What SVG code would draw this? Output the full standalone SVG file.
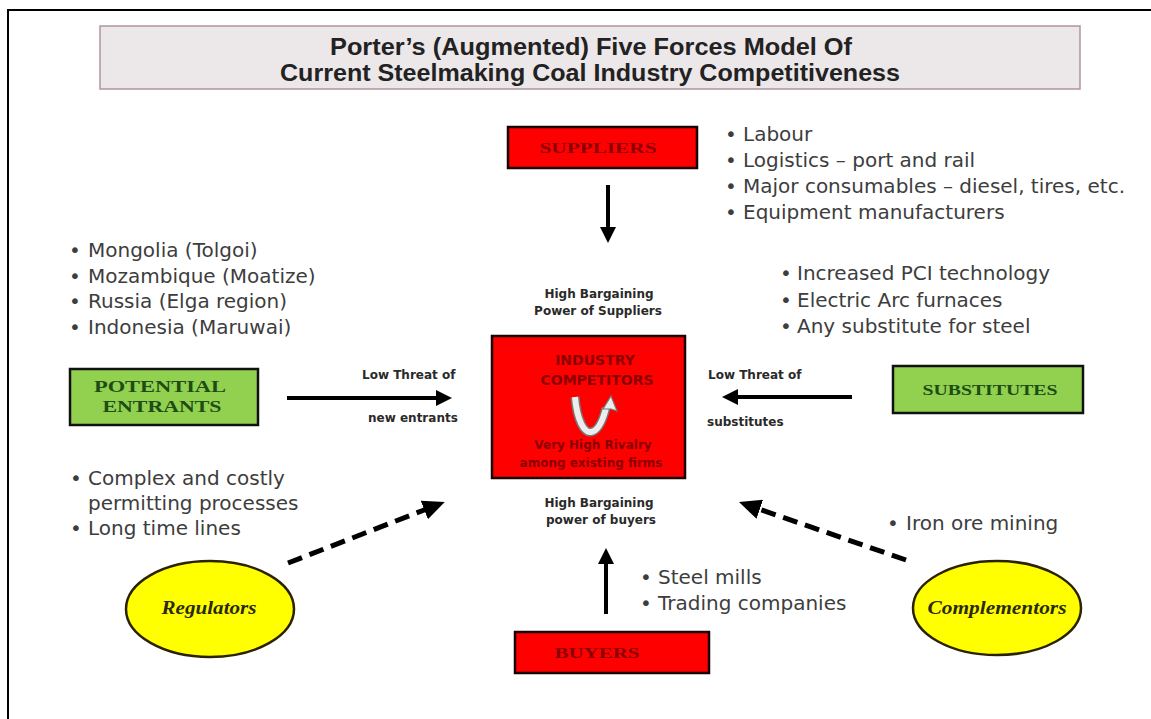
<svg xmlns="http://www.w3.org/2000/svg" width="1151" height="719" viewBox="0 0 1151 719">
<style>
.body{font-family:"DejaVu Sans","Liberation Sans",sans-serif;font-size:20px;fill:#3d3d3d}
.lbl{font-family:"DejaVu Sans","Liberation Sans",sans-serif;font-size:12px;font-weight:bold;fill:#2a2a2a}
.in{font-family:"DejaVu Sans","Liberation Sans",sans-serif;font-weight:bold;fill:#8a0000}
.serif{font-family:"Liberation Serif","DejaVu Serif",serif;font-weight:bold}
.ttl{font-family:"Liberation Sans","DejaVu Sans",sans-serif;font-size:23px;font-weight:bold;fill:#222}
.red{fill:#ff0000;stroke:#1a0000;stroke-width:2.5}
.green{fill:#92d050;stroke:#111;stroke-width:2.5}
.yel{fill:#ffff00;stroke:#2a2200;stroke-width:2.5}
.rt{fill:#8a0000}
.gt{fill:#1d4d14}
.solid{stroke:#000;stroke-width:4;fill:none}
.dash{stroke:#000;stroke-width:5;stroke-dasharray:15 8;fill:none}
</style>
<defs>
<marker id="ah" viewBox="0 0 16 16" refX="4" refY="8" markerWidth="16" markerHeight="16" markerUnits="userSpaceOnUse" orient="auto"><path d="M0,0 L16,8 L0,16 z" fill="#000"/></marker>
<marker id="ahd" viewBox="0 0 22 20" refX="4" refY="10" markerWidth="22" markerHeight="20" markerUnits="userSpaceOnUse" orient="auto"><path d="M0,0 L22,10 L0,20 z" fill="#000"/></marker>
</defs>
<rect width="1151" height="719" fill="#fff"/>
<path d="M8,719 V10 H1151" fill="none" stroke="#000" stroke-width="2"/>

<g id="title">
<rect x="100" y="26" width="980" height="63" fill="#ece7e9" stroke="#b0959c" stroke-width="1.5"/>
<text class="ttl" x="591" y="55" text-anchor="middle" textLength="522" lengthAdjust="spacingAndGlyphs">Porter’s (Augmented) Five Forces Model Of</text>
<text class="ttl" x="590" y="81" text-anchor="middle" textLength="620" lengthAdjust="spacingAndGlyphs">Current Steelmaking Coal Industry Competitiveness</text>
</g>

<g id="suppliers">
<rect class="red" x="508" y="127" width="189" height="41"/>
<text class="serif rt" x="598" y="153" font-size="15" text-anchor="middle" textLength="117" lengthAdjust="spacingAndGlyphs">SUPPLIERS</text>
</g>
<g id="suppliers-list" class="body">
<text x="725" y="141">•</text><text x="743" y="141">Labour</text>
<text x="725" y="167">•</text><text x="743" y="167">Logistics – port and rail</text>
<text x="725" y="193">•</text><text x="743" y="193">Major consumables – diesel, tires, etc.</text>
<text x="725" y="219">•</text><text x="743" y="219">Equipment manufacturers</text>
</g>

<g id="entrants-list" class="body">
<text x="69" y="257">•</text><text x="88" y="257">Mongolia (Tolgoi)</text>
<text x="69" y="283">•</text><text x="88" y="283">Mozambique (Moatize)</text>
<text x="69" y="308">•</text><text x="88" y="308">Russia (Elga region)</text>
<text x="69" y="334">•</text><text x="88" y="334">Indonesia (Maruwai)</text>
</g>

<g id="substitutes-list" class="body">
<text x="780" y="280">•</text><text x="797" y="280">Increased  PCI technology</text>
<text x="780" y="307">•</text><text x="797" y="307">Electric Arc furnaces</text>
<text x="780" y="333">•</text><text x="797" y="333">Any substitute for steel</text>
</g>

<g id="potential-entrants">
<rect class="green" x="70" y="369" width="188" height="56"/>
<text class="serif gt" x="160" y="392" font-size="16" text-anchor="middle" textLength="132" lengthAdjust="spacingAndGlyphs">POTENTIAL</text>
<text class="serif gt" x="162" y="412" font-size="16" text-anchor="middle" textLength="119" lengthAdjust="spacingAndGlyphs">ENTRANTS</text>
</g>

<g id="industry-competitors">
<rect class="red" x="492" y="336" width="193" height="142"/>
<text class="in" x="595" y="365" font-size="14" text-anchor="middle">INDUSTRY</text>
<text class="in" x="597" y="385" font-size="14" text-anchor="middle">COMPETITORS</text>
<path d="M575,397 C577,420 584,433 591,432 C598,431 603,420 606,408" fill="none" stroke="#777" stroke-width="9"/>
<path d="M575,397 C577,420 584,433 591,432 C598,431 603,420 606,408" fill="none" stroke="#ededed" stroke-width="6"/>
<path d="M611,396 L617,411 L611,409 L603,409 Z" fill="#ededed" stroke="#777" stroke-width="1.2"/>
<text class="in" x="593" y="449" font-size="12" text-anchor="middle">Very High Rivalry</text>
<text class="in" x="591" y="467" font-size="12" text-anchor="middle">among existing firms</text>
</g>

<g id="substitutes">
<rect class="green" x="893" y="366" width="190" height="47"/>
<text class="serif gt" x="990" y="395" font-size="15" text-anchor="middle" textLength="135" lengthAdjust="spacingAndGlyphs">SUBSTITUTES</text>
</g>

<g id="regulators-list" class="body">
<text x="70" y="485">•</text><text x="88" y="485">Complex and costly</text>
<text x="88" y="510">permitting processes</text>
<text x="70" y="535">•</text><text x="88" y="535">Long time lines</text>
</g>

<g id="regulators">
<ellipse class="yel" cx="210" cy="609" rx="84" ry="48"/>
<text class="serif" x="209" y="614" font-size="19" font-style="italic" fill="#2a2a10" text-anchor="middle" textLength="95" lengthAdjust="spacingAndGlyphs">Regulators</text>
</g>

<g id="complementors-list" class="body">
<text x="887" y="530">•</text><text x="906" y="530">Iron ore mining</text>
</g>

<g id="complementors">
<ellipse class="yel" cx="997" cy="608" rx="84" ry="47"/>
<text class="serif" x="997" y="614" font-size="19" font-style="italic" fill="#2a2a10" text-anchor="middle" textLength="139" lengthAdjust="spacingAndGlyphs">Complementors</text>
</g>

<g id="buyers-list" class="body">
<text x="640" y="584">•</text><text x="658" y="584">Steel mills</text>
<text x="640" y="610">•</text><text x="658" y="610">Trading companies</text>
</g>

<g id="buyers">
<rect class="red" x="515" y="632" width="194" height="41"/>
<text class="serif rt" x="597" y="658" font-size="15" text-anchor="middle" textLength="85" lengthAdjust="spacingAndGlyphs">BUYERS</text>
</g>

<g id="labels" class="lbl">
<text x="599" y="298" text-anchor="middle">High Bargaining</text>
<text x="598" y="315" text-anchor="middle">Power of Suppliers</text>
<text x="362" y="379">Low Threat of</text>
<text x="368" y="422">new entrants</text>
<text x="708" y="379">Low Threat of</text>
<text x="707" y="426">substitutes</text>
<text x="599" y="507" text-anchor="middle">High Bargaining</text>
<text x="601" y="524" text-anchor="middle">power of buyers</text>
</g>

<g id="connectors">
<line class="solid" x1="608" y1="185" x2="608" y2="231" marker-end="url(#ah)"/>
<line class="solid" x1="287" y1="398" x2="440" y2="398" marker-end="url(#ah)"/>
<line class="solid" x1="852" y1="397" x2="734" y2="397" marker-end="url(#ah)"/>
<line class="solid" x1="606" y1="614" x2="606" y2="560" marker-end="url(#ah)"/>
<line class="dash" x1="288" y1="563" x2="428" y2="508.5" marker-end="url(#ahd)"/>
<line class="dash" x1="906" y1="560" x2="756" y2="508" marker-end="url(#ahd)"/>
</g>
</svg>
